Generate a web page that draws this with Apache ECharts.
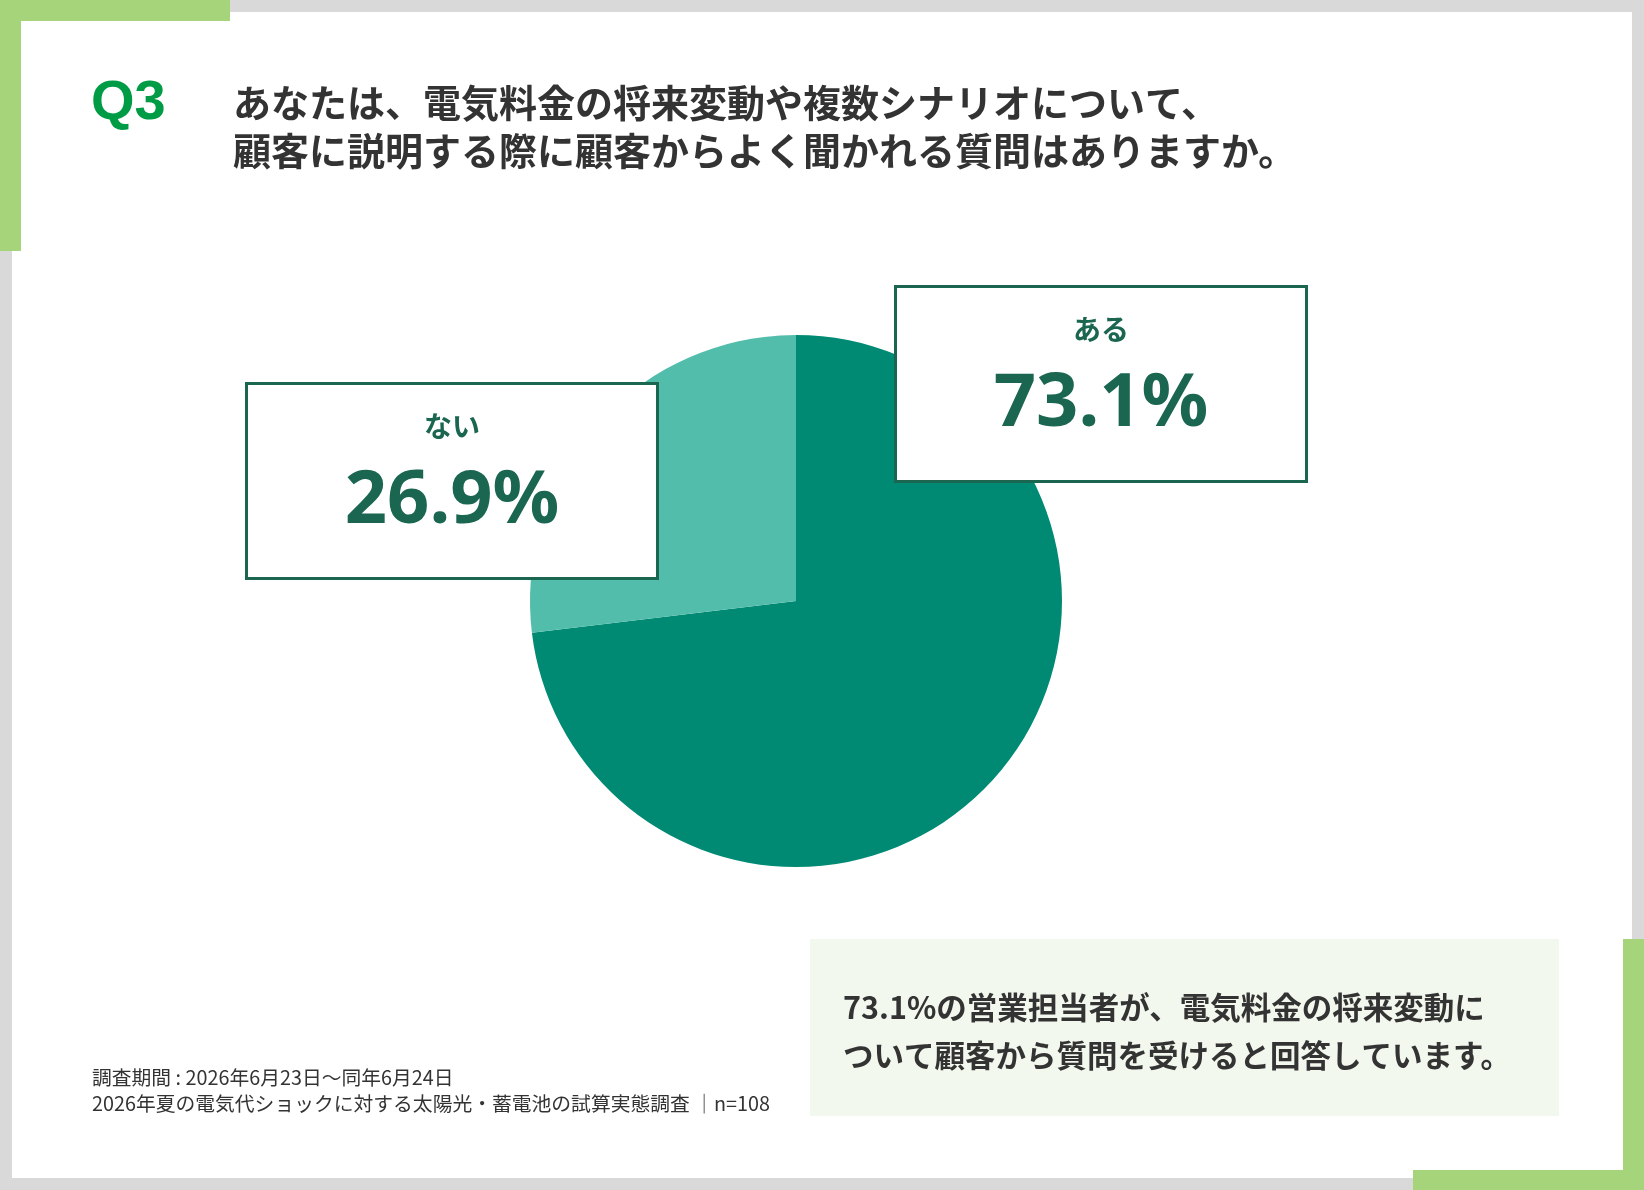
<!DOCTYPE html>
<html lang="ja">
<head>
<meta charset="utf-8">
<title>Q3 顧客からよく聞かれる質問</title>
<style>
html, body { margin: 0; padding: 0; background: #d9d9d9; }
#chart { width: 1644px; height: 1190px; }
</style>
</head>
<body>
<div id="chart"></div>
<script src="https://cdn.jsdelivr.net/npm/echarts@6/dist/echarts.min.js"></script>
<script>
// data
var categories = ['ある', 'ない'];
var shares = [73.1, 26.9];
var sliceColors = ['#008a74', '#52bdab'];

var questionNo = 'Q3';
var titleLines = [
    'あなたは、電気料金の将来変動や複数シナリオについて、',
    '顧客に説明する際に顧客からよく聞かれる質問はありますか。'
];
var noteLines = [
    '73.1%の営業担当者が、電気料金の将来変動に',
    'ついて顧客から質問を受けると回答しています。'
];
var sourceLines = [
    '調査期間 : 2026年6月23日～同年6月24日',
    '2026年夏の電気代ショックに対する太陽光・蓄電池の試算実態調査 │n=108'
];

// where the two label boxes sit (centre of each box)
var boxCenters = [[1101, 384], [452, 481]];

var jp = '"Noto Sans CJK JP", "Noto Sans", sans-serif';
var boxGreen = '#1a6650';

var myChart = echarts.init(document.getElementById('chart'));

function textEl(str, x, y, size, weight, color, family) {
    return {
        type: 'text',
        x: x,
        y: y,
        style: {
            text: str,
            fontSize: size,
            fontWeight: weight,
            fontFamily: family || jp,
            fill: color,
            align: 'left',
            verticalAlign: 'middle'
        }
    };
}

var graphics = [
    // white panel + corner accents
    { type: 'rect', shape: { x: 12, y: 12, width: 1620, height: 1166 }, style: { fill: '#ffffff' } },
    { type: 'rect', shape: { x: 0, y: 0, width: 230, height: 21 }, style: { fill: '#a6d47b' } },
    { type: 'rect', shape: { x: 0, y: 0, width: 21, height: 251 }, style: { fill: '#a6d47b' } },
    { type: 'rect', shape: { x: 1623, y: 939, width: 21, height: 251 }, style: { fill: '#a6d47b' } },
    { type: 'rect', shape: { x: 1413, y: 1170, width: 231, height: 20 }, style: { fill: '#a6d47b' } },
    // summary box
    { type: 'rect', shape: { x: 810, y: 939, width: 749, height: 177 }, style: { fill: '#f3f8ee' } },

    textEl(questionNo, 91, 104, 56, 'bold', '#009b45', '"Liberation Sans", Arial, sans-serif'),
    textEl(titleLines[0], 233, 103, 38, 'bold', '#333333'),
    textEl(titleLines[1], 233, 151, 38, 'bold', '#333333'),
    textEl(noteLines[0], 843, 1007, 30.5, 'bold', '#333333'),
    textEl(noteLines[1], 843, 1055, 30.5, 'bold', '#333333'),
    textEl(sourceLines[0], 92, 1077, 19.8, 'normal', '#333333'),
    textEl(sourceLines[1], 92, 1103, 19.8, 'normal', '#333333')
];

option = {
    animation: false,
    backgroundColor: '#d9d9d9',
    graphic: graphics,
    series: [
        {
            type: 'pie',
            center: [796, 601],
            radius: 266,
            startAngle: 90,
            clockwise: true,
            avoidLabelOverlap: false,
            silent: true,
            itemStyle: { borderWidth: 0 },
            label: {
                show: true,
                position: 'outside',
                formatter: '{n|{b}}\n{v|{c}%}',
                backgroundColor: '#ffffff',
                borderColor: boxGreen,
                borderWidth: 3,
                width: 408,
                padding: [20, 0, 20, 0],
                align: 'center',
                rich: {
                    n: {
                        fontFamily: jp,
                        fontWeight: 'bold',
                        fontSize: 28,
                        lineHeight: 42,
                        color: boxGreen,
                        align: 'center'
                    },
                    v: {
                        fontFamily: '"Noto Sans", "Open Sans", sans-serif',
                        fontWeight: 'bold',
                        fontSize: 74,
                        lineHeight: 110,
                        color: boxGreen,
                        align: 'center'
                    }
                }
            },
            labelLine: { show: false },
            labelLayout: function (params) {
                var c = boxCenters[params.dataIndex];
                return { x: c[0], y: c[1], align: 'center', verticalAlign: 'middle' };
            },
            data: categories.map(function (name, i) {
                return { name: name, value: shares[i], itemStyle: { color: sliceColors[i] } };
            })
        }
    ]
};
myChart.setOption(option);
</script>
</body>
</html>
